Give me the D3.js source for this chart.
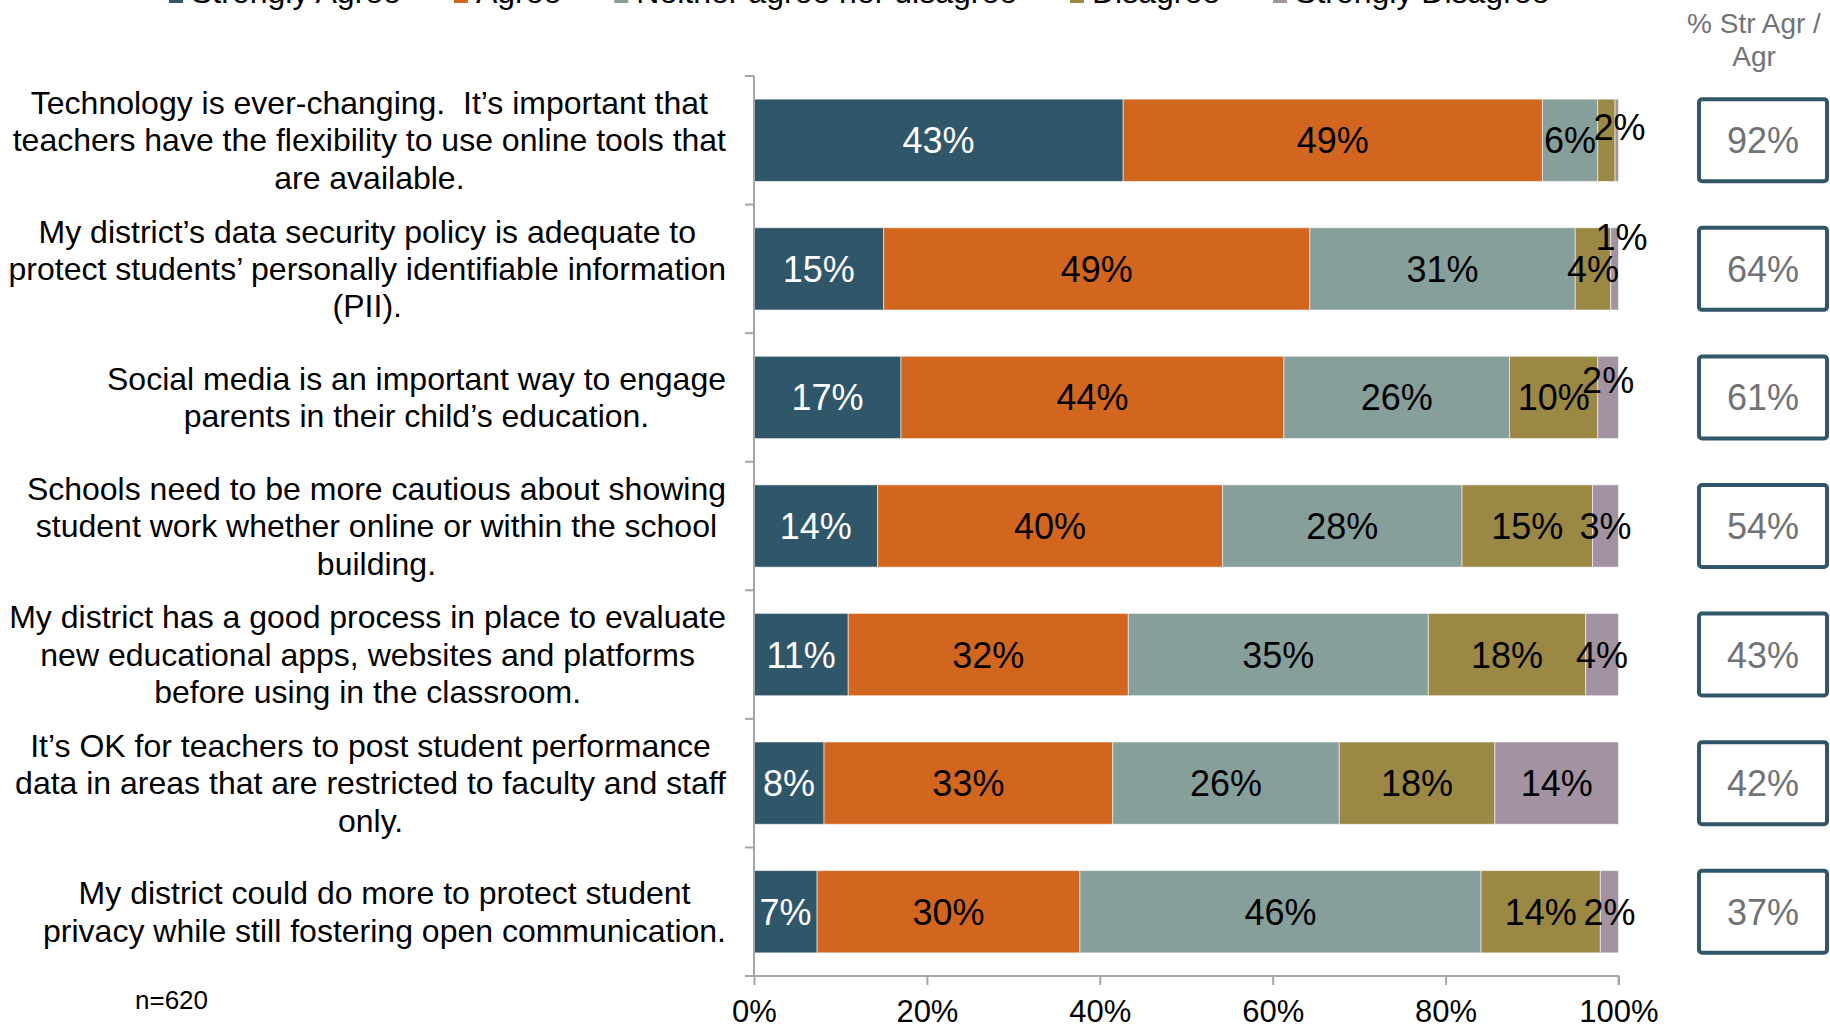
<!DOCTYPE html>
<html>
<head>
<meta charset="utf-8">
<script src="https://cdn.jsdelivr.net/npm/d3@7/dist/d3.min.js"></script>
<style>
  html, body { margin: 0; padding: 0; background: #fff; }
  svg { display: block; font-family: "Liberation Sans", Arial, sans-serif; }
  text { white-space: pre; }
</style>
</head>
<body>
<svg id="chart" width="1830" height="1028"></svg>
<script>
// ---------------- DATA ----------------
const categories = [
  ["Technology is ever-changing.  It\u2019s important that", "teachers have the flexibility to use online tools that", "are available."],
  ["My district\u2019s data security policy is adequate to", "protect students\u2019 personally identifiable information", "(PII)."],
  ["Social media is an important way to engage", "parents in their child\u2019s education."],
  ["Schools need to be more cautious about showing", "student work whether online or within the school", "building."],
  ["My district has a good process in place to evaluate", "new educational apps, websites and platforms", "before using in the classroom."],
  ["It\u2019s OK for teachers to post student performance", "data in areas that are restricted to faculty and staff", "only."],
  ["My district could do more to protect student", "privacy while still fostering open communication."]
];
const seriesNames = ["Strongly Agree", "Agree", "Neither agree nor disagree", "Disagree", "Strongly Disagree"];
const stronglyAgree    = [42.7, 15.0, 17.0, 14.3, 10.9, 8.1, 7.3];
const agree            = [48.5, 49.3, 44.3, 39.9, 32.4, 33.4, 30.4];
const neither          = [6.4, 30.7, 26.1, 27.7, 34.7, 26.2, 46.4];
const disagree         = [2.0, 4.1, 10.2, 15.1, 18.2, 18.0, 13.8];
const stronglyDisagree = [0.4, 0.9, 2.4, 3.0, 3.8, 14.3, 2.1];
const topTwoBox = [92, 64, 61, 54, 43, 42, 37];
const xTicks = [0, 20, 40, 60, 80, 100];
const sampleNote = "n=620";
const boxHeader = ["% Str Agr /", "Agr"];

// ---------------- STYLE / LAYOUT ----------------
const colors = ["#30566a", "#d3661f", "#879f9b", "#9a8844", "#a393a2"];
const labelColors = ["#ffffff", "#000000", "#000000", "#000000", "#000000"];
// manual label nudges [row, series, dx, dy]
const labelNudges = [[0, 3, 13, -13], [1, 4, 7, -32], [2, 4, 0, -17]];

const font = "'Liberation Sans', Arial, sans-serif";
const svg = d3.select("#chart");

const plotLeft = 754, plotRight = 1618.5, plotTop = 76, plotBottom = 976;

const x = d3.scaleLinear().domain([0, 100]).range([plotLeft, plotRight]);
const y = d3.scaleBand().domain(d3.range(categories.length))
  .range([plotTop, plotBottom]).paddingInner(0.36).paddingOuter(0.18);

const seriesArrays = [stronglyAgree, agree, neither, disagree, stronglyDisagree];
const rows = categories.map((c, i) => {
  const o = { idx: i };
  seriesNames.forEach((s, j) => o[s] = seriesArrays[j][i]);
  return o;
});
const stacked = d3.stack().keys(seriesNames)(rows);

// bars
const g = svg.append("g");
stacked.forEach((layer, j) => {
  g.append("g").selectAll("rect").data(layer).join("rect")
    .attr("x", d => x(d[0]))
    .attr("y", d => y(d.data.idx))
    .attr("width", d => x(d[1]) - x(d[0]))
    .attr("height", y.bandwidth())
    .attr("fill", colors[j])
    .attr("stroke", "rgba(255,255,255,0.55)")
    .attr("stroke-width", 1);
});

// bar labels
stacked.forEach((layer, j) => {
  layer.forEach(d => {
    const v = d[1] - d[0];
    const lbl = Math.round(v);
    if (lbl < 1) return;
    let dx = 0, dy = 0;
    labelNudges.forEach(n => { if (n[0] === d.data.idx && n[1] === j) { dx = n[2]; dy = n[3]; } });
    svg.append("text")
      .attr("x", (x(d[0]) + x(d[1])) / 2 + dx)
      .attr("y", y(d.data.idx) + y.bandwidth() / 2 + dy)
      .attr("dy", "0.36em")
      .attr("text-anchor", "middle")
      .attr("font-size", 36)
      .attr("fill", labelColors[j])
      .text(lbl + "%");
  });
});

// x axis
const xAxis = d3.axisBottom(x).tickValues(xTicks).tickFormat(d => d + "%").tickSize(9).tickSizeOuter(9);
const xg = svg.append("g").attr("transform", `translate(0,${plotBottom})`).call(xAxis);
xg.select(".domain").attr("stroke", "#a6a6a6").attr("stroke-width", 2)
  .attr("d", `M${plotLeft - 9},0H${plotRight}V9`);
xg.selectAll(".tick line").attr("stroke", "#a6a6a6").attr("stroke-width", 2);
xg.selectAll(".tick text").attr("font-size", 31).attr("font-family", font)
  .attr("fill", "#000").attr("y", 24).attr("dy", "0.71em");

// y axis line & ticks at band boundaries
const yBoundaries = d3.range(categories.length + 1).map(i => plotTop + i * y.step());
svg.append("line").attr("x1", plotLeft).attr("x2", plotLeft).attr("y1", plotTop).attr("y2", plotBottom)
  .attr("stroke", "#a6a6a6").attr("stroke-width", 2);
svg.append("g").selectAll("line").data(yBoundaries).join("line")
  .attr("x1", plotLeft - 9).attr("x2", plotLeft).attr("y1", d => d).attr("y2", d => d)
  .attr("stroke", "#a6a6a6").attr("stroke-width", 2);

// category labels: centered text block, block right-aligned at labelRight
const labelRight = 726, lineH = 37.3;
categories.forEach((lines, i) => {
  const cy = y(i) + y.bandwidth() / 2;
  const t = svg.append("text").attr("font-size", 32).attr("fill", "#000").attr("text-anchor", "middle");
  const spans = lines.map((ln, k) => t.append("tspan")
    .attr("y", cy + (k - (lines.length - 1) / 2) * lineH)
    .attr("dy", "0.35em").text(ln));
  let maxW = 0;
  spans.forEach(s => { maxW = Math.max(maxW, s.node().getComputedTextLength()); });
  spans.forEach(s => s.attr("x", labelRight - maxW / 2));
});

// right-side boxes
const boxLeft = 1699, boxW = 128;
topTwoBox.forEach((v, i) => {
  const cy = y(i) + y.bandwidth() / 2;
  svg.append("rect").attr("x", boxLeft).attr("y", cy - 41).attr("width", boxW).attr("height", 82)
    .attr("rx", 3).attr("fill", "#fff").attr("stroke", "#30566a").attr("stroke-width", 4);
  svg.append("text").attr("x", boxLeft + boxW / 2).attr("y", cy).attr("dy", "0.36em")
    .attr("text-anchor", "middle").attr("font-size", 36).attr("fill", "#717275").text(v + "%");
});
boxHeader.forEach((h, k) => {
  svg.append("text").attr("x", 1754).attr("y", 23 + k * 33).attr("dy", "0.35em")
    .attr("text-anchor", "middle").attr("font-size", 28).attr("fill", "#717275").text(h);
});

// n note
svg.append("text").attr("x", 135).attr("y", 1000).attr("dy", "0.35em")
  .attr("font-size", 26).attr("fill", "#000").text(sampleNote);

// legend (partially cut at top, as in the reference)
let lx = 169;
const legG = svg.append("g");
seriesNames.forEach((s, j) => {
  legG.append("rect").attr("x", lx).attr("y", -11).attr("width", 14).attr("height", 14).attr("fill", colors[j]);
  const t = legG.append("text").attr("x", lx + 22).attr("y", 3).attr("font-size", 32).attr("fill", "#000").text(s);
  lx += 22 + t.node().getComputedTextLength() + 53;
});
</script>
</body>
</html>
